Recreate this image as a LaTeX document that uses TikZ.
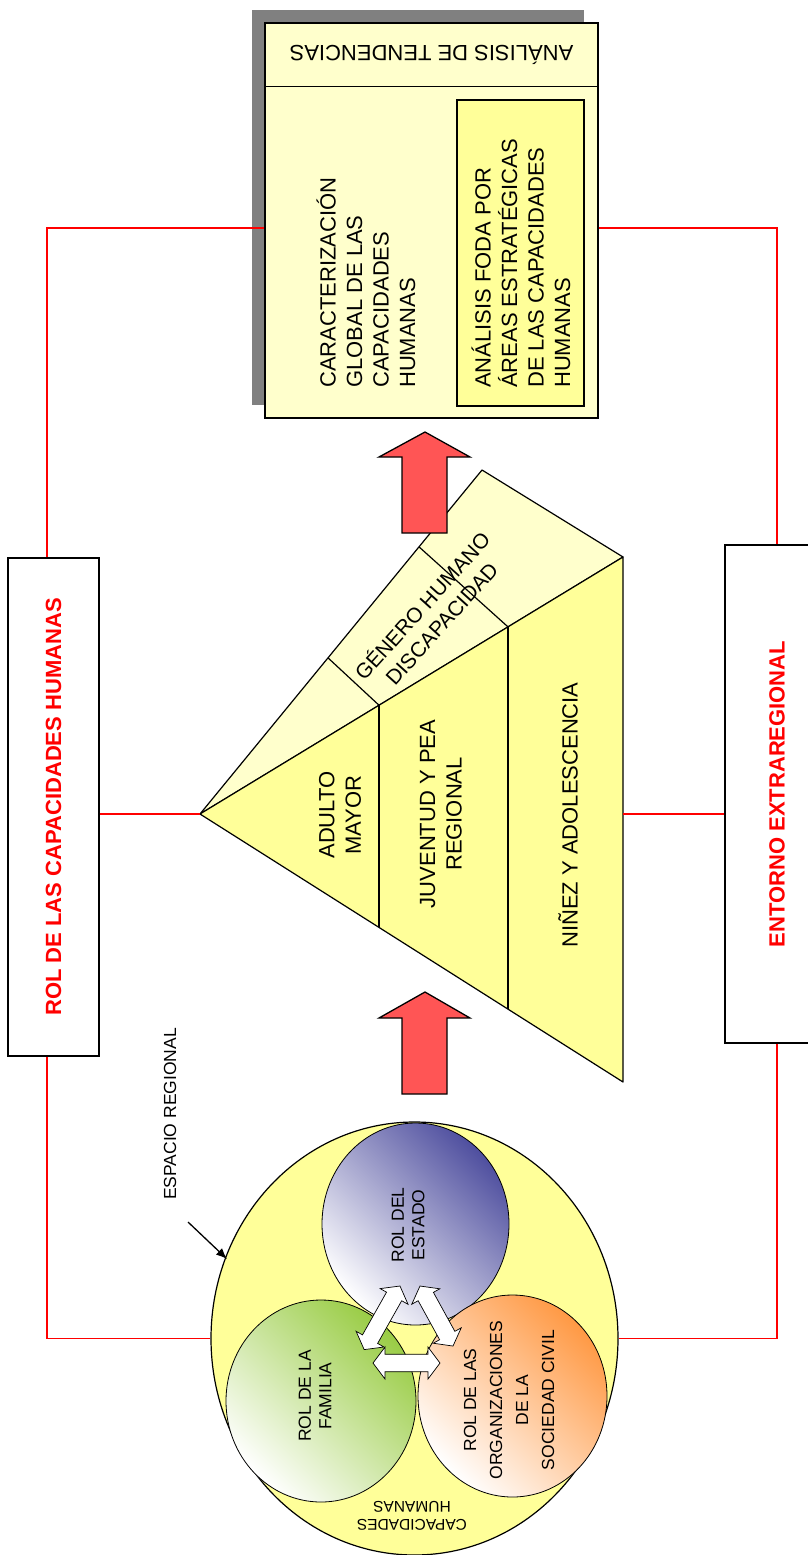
\documentclass[tikz,border=0pt]{standalone}
\usepackage{fontspec}
\setmainfont{Liberation Sans}
\usetikzlibrary{shapes.geometric,arrows.meta,calc}
\definecolor{lightyel}{HTML}{FFFFCC}
\definecolor{yel}{HTML}{FFFF99}
\definecolor{arrowred}{HTML}{FF5555}
\definecolor{estblue}{HTML}{4F4F9F}
\definecolor{famgreen}{HTML}{99CC44}
\definecolor{socorange}{HTML}{FF9944}
\definecolor{shadowgray}{HTML}{808080}
\newcommand\fsz[2]{\fontsize{#1}{#2}\selectfont}
\newcommand\dblarr[4]{%
  \begin{scope}[shift={(#1,#2)}, rotate=#3, x=1pt, y=1pt]
    \draw[whitearrow] (0,0) -- (12,16) -- (12,8.7) -- (#4-12,8.7) -- (#4-12,16) -- (#4,0)
      -- (#4-12,-16) -- (#4-12,-8.7) -- (12,-8.7) -- (12,-16) -- cycle;
  \end{scope}}
\begin{document}
\begin{tikzpicture}[x=1pt,y=-1pt,
  box/.style={draw=black, line width=1.2pt, inner sep=0pt},
  redline/.style={draw=red, line width=1.2pt},
  lbl/.style={inner sep=0pt, font=\fsz{22}{26.5}, align=center},
  small/.style={inner sep=0pt, font=\fsz{17.5}{20.5}, align=center},
  face/.style={draw=black, line width=1.2pt, line join=round},
  divider/.style={draw=black, line width=1.2pt},
  redarrow/.style={draw=black, fill=arrowred, line width=1.3pt, line join=miter},
  whitearrow/.style={draw=black, fill=white, line width=0.7pt, line join=miter},
  roundel/.style={ellipse, draw=black, line width=0.8pt, inner sep=0pt}]
\useasboundingbox (0,0) rectangle (808,1555);

% ---------- top box ----------
\fill[shadowgray] (252,10) rectangle (584,405);
\node[box, fill=lightyel, minimum width=333pt, minimum height=395pt] (tbox) at (431.5,220.5) {};
\draw[divider] ($(tbox.north west)+(0,64)$) -- ($(tbox.north east)+(0,64)$);
\node[lbl, rotate=180] (tend) at (431.5,55) {ANÁLISIS DE TENDENCIAS};
\node[box, fill=yel, minimum width=127pt, minimum height=306pt] (foda) at (520.5,253) {};
\node[lbl, rotate=90, anchor=west, align=left] (carac) at (366,388)
  {CARACTERIZACIÓN\\GLOBAL DE LAS\\CAPACIDADES\\HUMANAS};
\node[lbl, rotate=90, anchor=west, align=left] (fodatxt) at (521,388)
  {ANÁLISIS FODA POR\\ÁREAS ESTRATÉGICAS\\DE LAS CAPACIDADES\\HUMANAS};

% ---------- side boxes ----------
\node[box, minimum width=91pt, minimum height=498pt, text=red, font=\fsz{22}{26}\bfseries] (lbox) at (53.5,807)
  {\rotatebox{90}{ROL DE LAS CAPACIDADES HUMANAS}};
\node[box, minimum width=104pt, minimum height=498pt, text=red, font=\fsz{22}{26}\bfseries] (rbox) at (777,794)
  {\rotatebox{90}{ENTORNO EXTRAREGIONAL}};

% ---------- triangle ----------
\coordinate (apex) at (200,814);
\coordinate (ttop) at (482,470);
\coordinate (tr) at (623,557);
\coordinate (br) at (623,1082);
\draw[face, fill=lightyel] (apex) -- (ttop) -- (tr) -- cycle;
\draw[face, fill=yel] (apex) -- (tr) -- (br) -- cycle;
\draw[divider] ($(apex)!0.4539!(ttop)$) -- ($(apex)!0.4232!(tr)$);
\draw[divider] ($(apex)!0.7766!(ttop)$) -- ($(apex)!0.7281!(tr)$);
\draw[divider] ($(apex)!0.4232!(tr)$) -- ($(apex)!0.4232!(br)$);
\draw[divider] ($(apex)!0.7281!(tr)$) -- ($(apex)!0.7281!(br)$);
\node[lbl, rotate=90] (adulto) at (340,815) {ADULTO\\MAYOR};
\node[lbl, rotate=90] (juventud) at (441,814) {JUVENTUD Y PEA\\REGIONAL};
\node[lbl, rotate=90] (ninez) at (568,815) {NIÑEZ Y ADOLESCENCIA};
\node[lbl, rotate=48, font=\fsz{21}{26}] (genero) at (431,614) {GÉNERO HUMANO\\DISCAPACIDAD};

% ---------- red block arrows ----------
\draw[redarrow] (425,432) -- (470,457) -- (447,457) -- (447,533) -- (402,533) -- (402,457) -- (379,457) -- cycle;
\draw[redarrow] (425,992) -- (470,1018) -- (447,1018) -- (447,1094) -- (402,1094) -- (402,1018) -- (379,1018) -- cycle;

% ---------- circles ----------
\node[ellipse, draw=black, fill=yel, line width=1.2pt, inner sep=0pt, minimum width=407pt, minimum height=433pt] (big) at (414.5,1338.5) {};
\node[roundel, top color=estblue, bottom color=white, shading angle=-45, minimum width=187pt, minimum height=202pt] (estado) at (415.5,1224) {};
\node[roundel, top color=famgreen, bottom color=white, shading angle=-45, minimum width=190pt, minimum height=202pt] (familia) at (321,1401) {};
\node[roundel, top color=socorange, bottom color=white, shading angle=-45, minimum width=189pt, minimum height=202pt] (sociedad) at (512.5,1396) {};
\node[small, rotate=90] (estadotxt) at (408,1225) {ROL DEL\\ESTADO};
\node[small, rotate=90] (familiatxt) at (315,1396) {ROL DE LA\\FAMILIA};
\node[small, rotate=90, font=\fsz{17.5}{26}] (sociedadtxt) at (509,1400) {ROL DE LAS\\ORGANIZACIONES\\DE LA\\SOCIEDAD CIVIL};
\node[inner sep=0pt, font=\fsz{15.5}{18}, align=center, rotate=180] (caphum) at (412,1516) {CAPACIDADES\\HUMANAS};

% white double arrows
\dblarr{400}{1286}{-119.4}{73}
\dblarr{420}{1286}{-61.2}{68.5}
\dblarr{373}{1363}{0}{67}

% espacio regional
\node[small, rotate=90] (espacio) at (170,1114) {ESPACIO REGIONAL};
\coordinate (espA) at (188,1222);
\coordinate (espB) at (227,1259);
\draw[-{Latex[length=11pt,width=9pt]}, line width=1.3pt] (espA) -- (espB);

% ---------- red connectors ----------
\draw[redline] ([xshift=-6.5pt]lbox.north) |- ([yshift=-7.5pt]tbox.west);
\draw[redline] ([yshift=-7.5pt]tbox.east) -| (rbox.north);
\draw[redline] (lbox.east |- apex) -- (apex);
\draw[redline] (tr |- apex) -- (rbox.west |- apex);
\draw[redline] ([xshift=-6.5pt]lbox.south) |- (big.west);
\draw[redline] (rbox.south) |- (big.east);
\end{tikzpicture}
\end{document}
